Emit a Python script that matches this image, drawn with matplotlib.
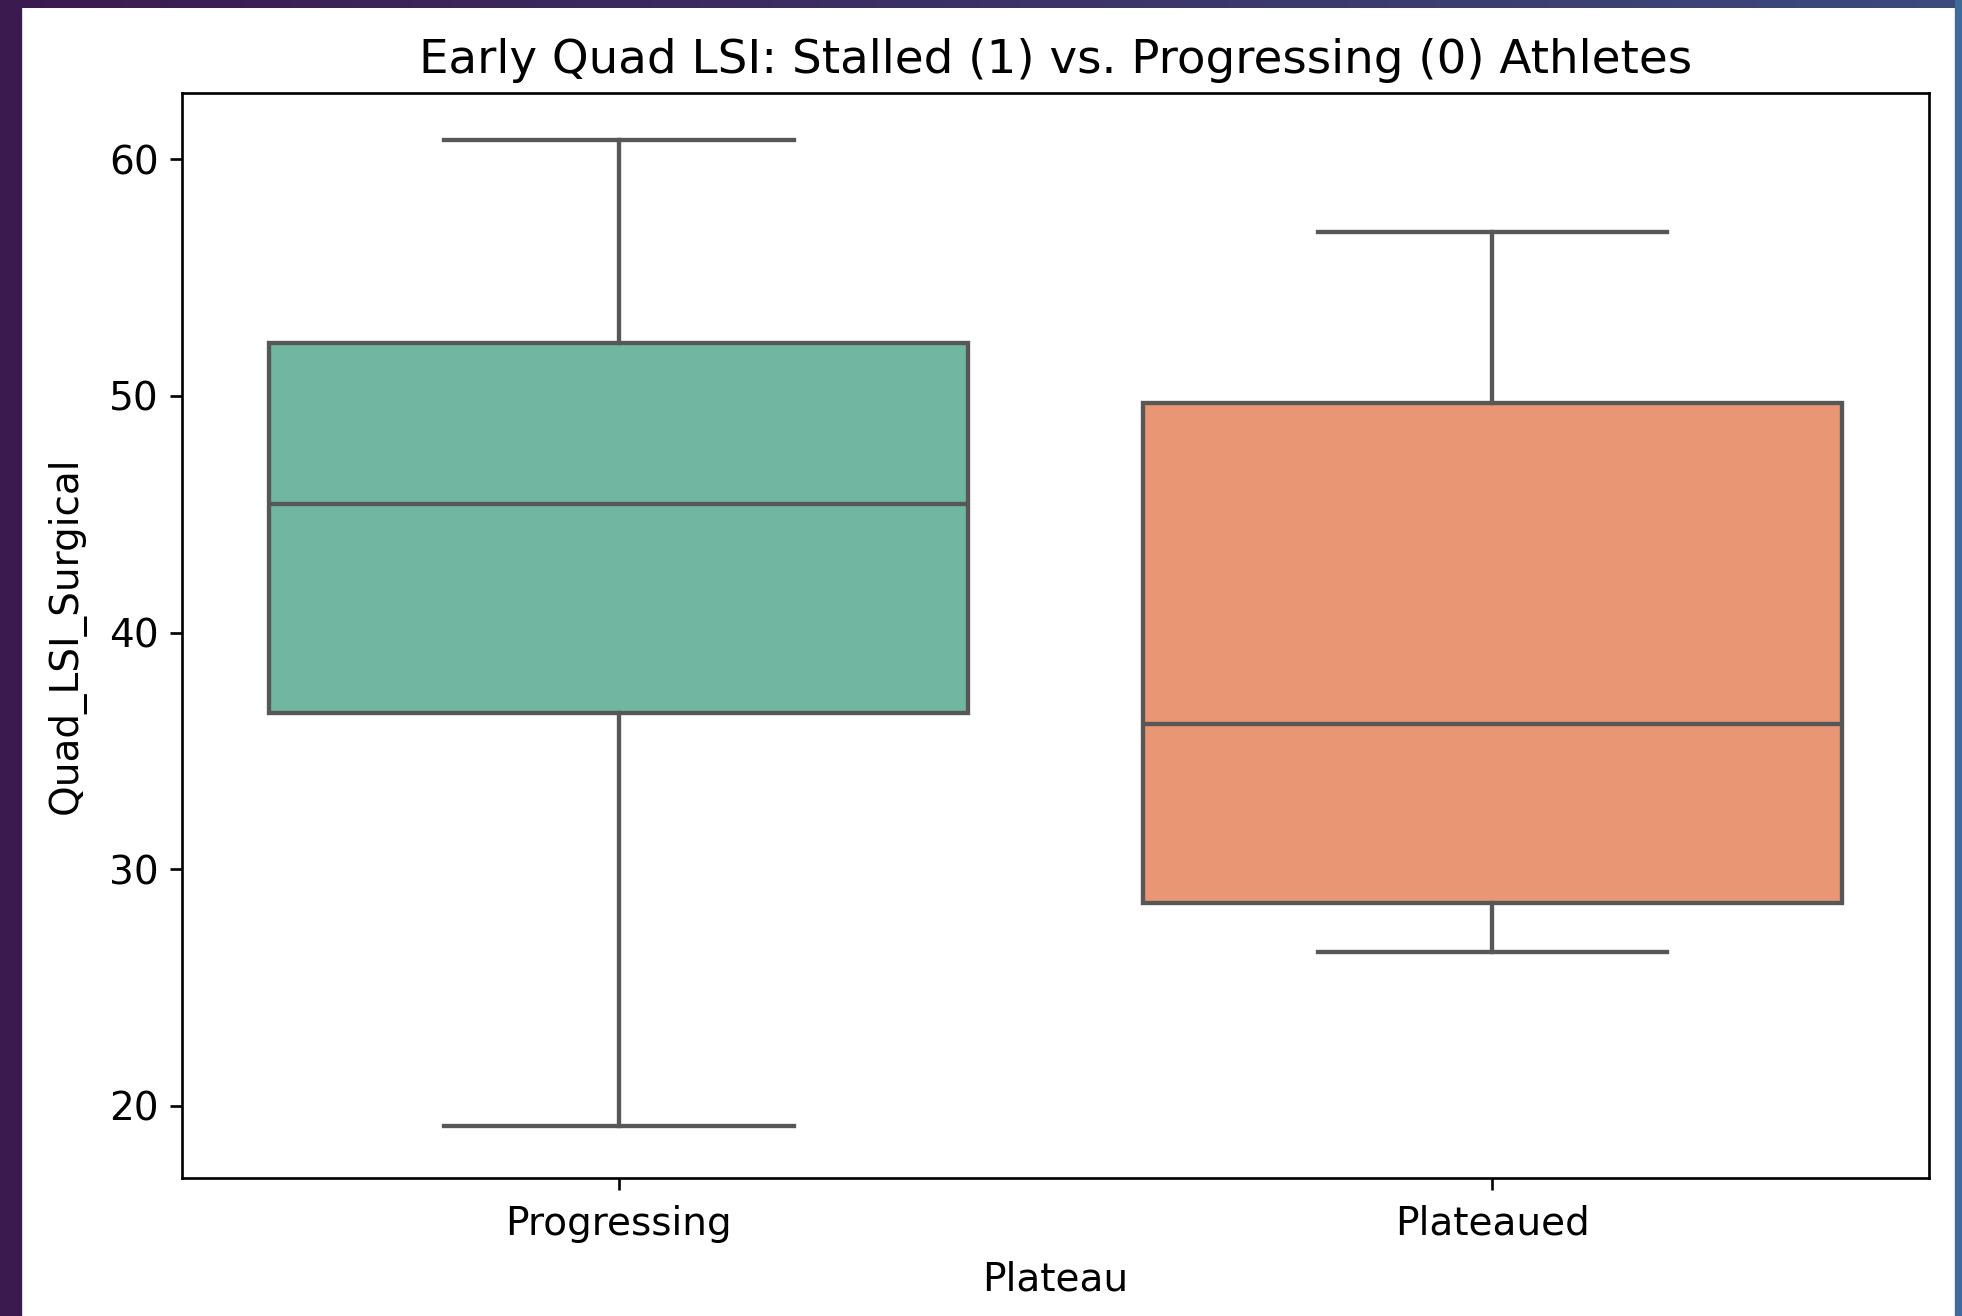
import numpy as np
import matplotlib.pyplot as plt
from matplotlib.patches import Rectangle
from matplotlib.colors import LinearSegmentedColormap

# box statistics
groups = ["Progressing", "Plateaued"]
whislo = [19.15, 26.51]
q1 = [36.62, 28.58]
med = [45.45, 36.14]
q3 = [52.22, 49.68]
whishi = [60.80, 56.91]
colors = ["#71b6a0", "#e99675"]

plt.rcParams["font.size"] = 11.7

fig = plt.figure(figsize=(1962 / 240, 1316 / 240), dpi=240)
ax = fig.add_axes([0.0928, 0.1049, 0.9832 - 0.0928, 0.9293 - 0.1049])

stats = []
for i, g in enumerate(groups):
    stats.append(dict(label=g, whislo=whislo[i], q1=q1[i], med=med[i],
                      q3=q3[i], whishi=whishi[i], fliers=[]))

line = dict(color="#575757", linewidth=1.3)
bp = ax.bxp(stats, positions=range(len(groups)), widths=0.8,
            patch_artist=True, showfliers=False,
            boxprops=dict(edgecolor="#575757", linewidth=1.3),
            medianprops=line, whiskerprops=line, capprops=line,
            capwidths=0.4)
for patch, c in zip(bp["boxes"], colors):
    patch.set_facecolor(c)

ax.set_xlim(-0.5, 1.5)
ax.set_ylim(16.96, 62.79)
ax.set_yticks([20, 30, 40, 50, 60])
ax.set_xticks(range(len(groups)))
ax.set_xticklabels(groups)
ax.tick_params(axis="x", pad=4.5)
ax.set_xlabel("Plateau", labelpad=5.5)
ax.set_ylabel("Quad_LSI_Surgical", labelpad=7)
ax.set_title("Early Quad LSI: Stalled (1) vs. Progressing (0) Athletes")

# screenshot frame
W, H = 1962, 1316
fig.patches.append(Rectangle((0, 0), 20 / W, 1, transform=fig.transFigure,
                             color="#3b1a4f", zorder=10))
fig.patches.append(Rectangle((1956 / W, 0), 6 / W, 1, transform=fig.transFigure,
                             color="#3f6a9a", zorder=10))
top = fig.add_axes([0, 1 - 8 / H, 1, 8 / H])
grad = np.linspace(0, 1, 256)[None, :]
cm = LinearSegmentedColormap.from_list("frame", ["#3b1a4f", "#3d4a7c"])
top.imshow(grad, aspect="auto", cmap=cm)
top.axis("off")

fig.savefig("out.png", dpi=240)
